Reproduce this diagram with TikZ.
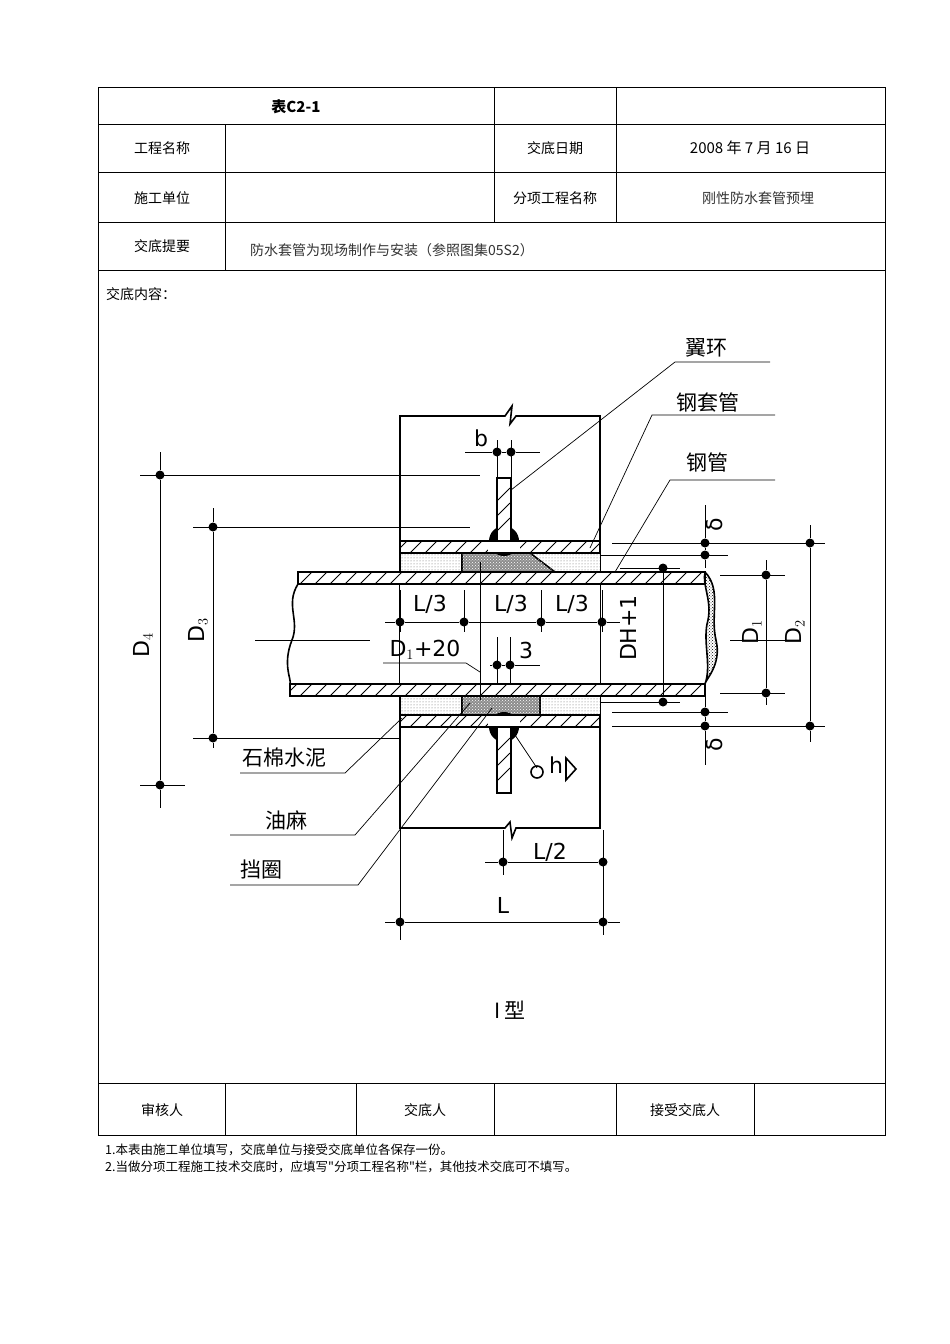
\documentclass[tikz,border=0pt]{standalone}
\usepackage{fontspec}
\setmainfont{Liberation Serif}
\newfontfamily\cjk{Noto Sans CJK SC}
\newfontfamily\lbl{DejaVu Sans}
\usetikzlibrary{patterns}
\begin{document}
\begin{tikzpicture}[x=1pt,y=-1pt,
 tbl/.style={line width=0.8pt},
 tt/.style={font=\cjk\fontsize{14}{16}\selectfont,inner sep=0},
 dd/.style={circle,fill=black,inner sep=0,minimum size=9pt},
 thin/.style={line width=0.7pt},
 thick/.style={line width=1.6pt},
 lb/.style={font=\cjk\fontsize{21}{23}\selectfont,inner sep=0},
 dl/.style={font=\lbl\fontsize{22}{24}\selectfont,inner sep=0},
 hat/.style={line width=0.9pt},
 pack/.style={thick,fill=black!45,postaction={pattern=crosshatch dots,pattern color=white}}]
\useasboundingbox[fill=white] (0,0) rectangle (950,1344);
% ---------- table ----------
\draw[tbl] (98,87) rectangle (885,1135);
\foreach \y in {124,172,222,270,1083} \draw[tbl] (98,\y) -- (885,\y);
\draw[tbl] (494,87) -- (494,222); \draw[tbl] (616,87) -- (616,222);
\draw[tbl] (225,124) -- (225,270);
\foreach \x in {225,356,494,616,754} \draw[tbl] (\x,1083) -- (\x,1135);
\node[tt,font=\cjk\bfseries\fontsize{15}{17}\selectfont] (t0) at (296,107) {表C2-1};
\node[tt] (t1) at (162,148) {工程名称};
\node[tt] (t2) at (555,148) {交底日期};
\node[tt,font=\cjk\fontsize{15}{17}\selectfont] (t3) at (750,148) {2008 年 7 月 16 日};
\node[tt] (t4) at (162,198) {施工单位};
\node[tt] (t5) at (555,198) {分项工程名称};
\node[tt,text=black!80] (t6) at (758,198) {刚性防水套管预埋};
\node[tt] (t7) at (162,246) {交底提要};
\node[tt,anchor=west,text=black!80] (t8) at (250,250) {防水套管为现场制作与安装（参照图集05S2）};
\node[tt,anchor=west] (t9) at (106,294) {交底内容：};
\node[tt] (t10) at (162,1110) {审核人};
\node[tt] (t11) at (425,1110) {交底人};
\node[tt] (t12) at (685,1110) {接受交底人};
\node[tt,anchor=west,font=\cjk\fontsize{12.5}{14}\selectfont] (n1) at (105,1150) {1.本表由施工单位填写，交底单位与接受交底单位各保存一份。};
\node[tt,anchor=west,font=\cjk\fontsize{12.5}{14}\selectfont] (n2) at (105,1167) {2.当做分项工程施工技术交底时，应填写"分项工程名称"栏，其他技术交底可不填写。};
% ---------- wall ----------
\draw[thick] (400,828) -- (400,416) -- (505,416) -- (512,406) -- (510,424) -- (516,416) -- (600,416) -- (600,828)
 -- (516,828) -- (512,838) -- (510,822) -- (505,828) -- cycle;
% fillers
\fill[white] (400,541) rectangle (600,727);
\draw[pattern=dots,pattern color=black!60] (400,553) rectangle (600,572);
\draw[pattern=dots,pattern color=black!60] (400,696) rectangle (600,715);
\draw[pack] (462,553) -- (462,572) -- (555,572) -- (530,553) -- cycle;
\draw[pack] (462,696) rectangle (540,715);
% sleeve bands
\foreach \ya/\yb in {541/553,715/727}{
 \fill[white] (400,\ya) rectangle (600,\yb);
 \begin{scope}\clip (400,\ya) rectangle (600,\yb);
 \foreach \x in {395,410,...,610} \draw[hat] (\x,\yb) -- (\x+12,\ya);
 \end{scope}
 \draw[thick] (400,\ya) rectangle (600,\yb);}
% pipe walls
\foreach \ya/\yb/\xa in {572/584/298,684/696/290}{
 \fill[white] (\xa,\ya) rectangle (705,\yb);
 \begin{scope}\clip (\xa,\ya) rectangle (705,\yb);
 \foreach \x in {285,300,...,715} \draw[hat] (\x,\yb) -- (\x+12,\ya);
 \end{scope}
 \draw[thick] (\xa,\ya) rectangle (705,\yb);}
% pipe ends
\draw[thick] (298,584) .. controls (285,605) and (300,620) .. (292,640) .. controls (282,665) and (292,680) .. (290,684);
\draw[thick,pattern=crosshatch dots] (705,572) .. controls (722,590) and (710,615) .. (716,640) .. controls (722,665) and (705,680) .. (705,684) .. controls (712,665) and (702,640) .. (708,620) .. controls (712,600) and (702,585) .. (705,572);
% ring plate and welds
\fill (504,541) circle[radius=15]; \fill (504,727) circle[radius=15];
\fill[white] (488,541) rectangle (520,553); \fill[white] (488,715) rectangle (520,727);
\draw[thick] (400,541) -- (600,541); \draw[thick] (400,553)--(600,553);
\draw[thick] (400,715) -- (600,715); \draw[thick] (400,727)--(600,727);
\draw[thick,fill=white] (497,478) rectangle (511,541);
\draw[thick,fill=white] (497,727) rectangle (511,793);
\draw[hat] (498,500) -- (510,488) (498,515)--(510,503) (498,530)--(510,518);
\draw[hat] (498,750) -- (510,738) (498,765)--(510,753) (498,780)--(510,768);
% centre line & axis stubs
\draw[thin] (480,562) -- (480,700);
\draw[thin] (255,640) -- (370,640) (730,640) -- (790,640);
% ---------- dimensions ----------
\node[dd] (b1) at (497,452) {}; \node[dd] (b2) at (511,452) {};
\draw[thin] (497,440) -- (497,478) (511,440) -- (511,478) (465,452) -- (b1) -- (b2) -- (540,452);
\node[dl] (bt) at (481,438) {b};
\node[dd] (d4a) at (160,475) {}; \node[dd] (d4b) at (160,785) {};
\draw[thin] (160,452) -- (d4a) -- (d4b) -- (160,808);
\draw[thin] (140,475) -- (480,475) (140,785) -- (185,785);
\node[dl,rotate=90] (d4t) at (143,645) {D$_4$};
\node[dd] (d3a) at (213,527) {}; \node[dd] (d3b) at (213,738) {};
\draw[thin] (213,508) -- (d3a) -- (d3b) -- (213,748);
\draw[thin] (193,527) -- (470,527) (193,738) -- (400,738);
\node[dl,rotate=90] (d3t) at (198,630) {D$_3$};
\node[dd] (la) at (400,622) {}; \node[dd] (lb) at (464,622) {}; \node[dd] (lc) at (541,622) {}; \node[dd] (ld) at (602,622) {};
\draw[thin] (385,622) -- (la) -- (lb) -- (lc) -- (ld) -- (620,622);
\draw[thin] (400,590) -- (400,632) (464,590) -- (464,632) (541,590) -- (541,632) (602,590) -- (602,632);
\node[dl] (l1) at (430,604) {L/3}; \node[dl] (l2) at (511,604) {L/3}; \node[dl] (l3) at (572,604) {L/3};
\node[dl] (d20) at (425,650) {D$_1$+20};
\draw[thin] (383,663) -- (466,663) -- (480,672);
\node[dd] (t3a) at (497,665) {}; \node[dd] (t3b) at (510,665) {};
\draw[thin] (497,637) -- (497,684) (510,637) -- (510,684) (490,665) -- (t3a) -- (t3b) -- (540,665);
\node[dl] (t3t) at (526,650) {3};
\node[dd] (dna) at (663,568) {}; \node[dd] (dnb) at (663,702) {};
\draw[thin] (dna) -- (dnb);
\draw[thin] (600,555) -- (680,555) (620,568) -- (680,568) (600,702) -- (680,702);
\node[dl,rotate=90] (dnt) at (628,628) {DH+1};
\node[dd] (sa) at (705,543) {}; \node[dd] (sb) at (705,555) {};
\node[dd] (sc) at (705,712) {}; \node[dd] (sd) at (705,726) {};
\draw[thin] (705,505) -- (sa) -- (sb) -- (705,568) (705,690) -- (sc) -- (sd) -- (705,765);
\draw[thin] (612,543) -- (825,543) (612,555) -- (728,555) (612,712) -- (728,712) (612,726) -- (825,726);
\node[dl,rotate=90] (st1) at (714,525) {δ}; \node[dl,rotate=90] (st2) at (714,745) {δ};
\node[dd] (d1a) at (766,575) {}; \node[dd] (d1b) at (766,693) {};
\draw[thin] (766,560) -- (d1a) -- (d1b) -- (766,705) (720,575) -- (785,575) (720,693) -- (785,693);
\node[dl,rotate=90] (d1t) at (752,632) {D$_1$};
\node[dd] (d2a) at (810,543) {}; \node[dd] (d2b) at (810,726) {};
\draw[thin] (810,525) -- (d2a) -- (d2b) -- (810,742);
\node[dl,rotate=90] (d2t) at (795,632) {D$_2$};
\node[dd] (h1) at (503,862) {}; \node[dd] (h2) at (603,862) {};
\node[dd] (f1) at (400,922) {}; \node[dd] (f2) at (603,922) {};
\draw[thin] (503,830) -- (503,875) (603,830) -- (603,935) (400,828) -- (400,940);
\draw[thin] (485,862) -- (h1) -- (h2) (385,922) -- (f1) -- (f2) -- (620,922);
\node[dl] (lht) at (550,852) {L/2}; \node[dl] (lft) at (503,905) {L};
% ---------- leader labels ----------
\node[lb,anchor=west] (y1) at (685,348) {翼环};
\draw[thin] (770,362) -- (675,362) -- (511,490);
\node[lb,anchor=west] (y2) at (676,402) {钢套管};
\draw[thin] (775,415) -- (652,415) -- (590,548);
\node[lb,anchor=west] (y3) at (686,462) {钢管};
\draw[thin] (775,480) -- (670,480) -- (615,572);
\node[lb,anchor=west] (y4) at (242,758) {石棉水泥};
\draw[thin] (240,773) -- (345,773) -- (402,718);
\node[lb,anchor=west] (y5) at (265,820) {油麻};
\draw[thin] (230,835) -- (355,835) -- (470,703);
\node[lb,anchor=west] (y6) at (240,870) {挡圈};
\draw[thin] (230,885) -- (358,885) -- (492,708);
\draw[thin] (515,735) -- (537,768);
\draw[thick] (537,772) circle[radius=6];
\node[dl] (wh) at (556,765) {h};
\draw[thick] (566,758) -- (566,780) -- (576,769) -- cycle;
\node[lb] (ty) at (510,1010) {I 型};
\end{tikzpicture}
\end{document}
